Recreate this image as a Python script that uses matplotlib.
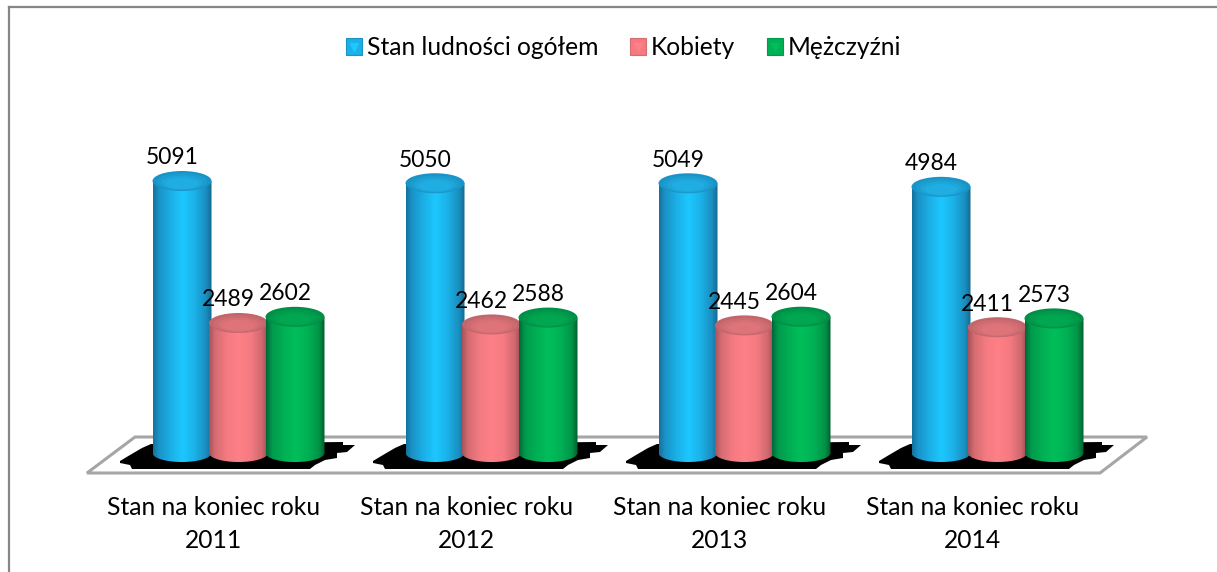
import numpy as np
import matplotlib
matplotlib.use('Agg')
import matplotlib.pyplot as plt
from matplotlib.colors import LinearSegmentedColormap
from matplotlib.lines import Line2D
from matplotlib.legend_handler import HandlerTuple
from matplotlib.patches import Ellipse, PathPatch, Polygon, Rectangle
from matplotlib.path import Path
from matplotlib.transforms import Affine2D

plt.rcParams['font.family'] = ['Lato', 'DejaVu Sans']

# data
categories = ['Stan na koniec roku\n2011', 'Stan na koniec roku\n2012',
              'Stan na koniec roku\n2013', 'Stan na koniec roku\n2014']
ogolem = [5091, 5050, 5049, 4984]
kobiety = [2489, 2462, 2445, 2411]
mezczyzni = [2602, 2588, 2604, 2573]
series_names = ['Stan ludności ogółem', 'Kobiety', 'Mężczyźni']

W, H = 1217, 572
PX_PER_VALUE = 0.05457    # vertical pixels per person
Y0 = 458.8                # pixel row of value 0
STEP = 253.0              # pixels between groups
X0 = 238.5                # pixel column of group 0
BAR_W = 59 / STEP
SHIFT = 56.5 / STEP
BASE = 106                # value at which the cylinders' foot sits
RY = 10 / PX_PER_VALUE    # half height of the end ellipses

stops = [0, 0.1, 0.3, 0.5, 0.72, 0.9, 1]
shades = [('#14729c', '#1a93c8', '#1bb0e6', '#1cc8ff', '#1bb0e6', '#1a8ebf', '#126a90'),
          ('#a5535a', '#d56c72', '#f47a81', '#ff8087', '#f47a81', '#cf686e', '#9c4e52'),
          ('#00673a', '#009a4c', '#00b054', '#00be5a', '#00b054', '#009448', '#005e30')]
top_colors = ['#1a94c6', '#c2666b', '#008f47']
top_lights = ['#22b4ea', '#e6797f', '#00ad54']

fig = plt.figure(figsize=(W / 100, H / 100), dpi=100)
ax = fig.add_axes([0, 0, 1, 1])
ax.set_xlim(-X0 / STEP, (W - X0) / STEP)
ax.set_ylim((Y0 - H) / PX_PER_VALUE, Y0 / PX_PER_VALUE)
ax.axis('off')

# pixel coordinates, origin top left, for the decoration only
px = Affine2D().scale(1, -1).translate(0, H)

# outer frame
for xs, ys in [((8.5, 8.5), (7, H)), ((8.5, W), (7, 7))]:
    ax.add_line(Line2D(xs, ys, transform=px, color='#868686', lw=1.6, zorder=1))

# floor
ax.add_patch(Polygon([(87, 473), (1100, 473), (1147, 437), (135, 437)], closed=True,
                     transform=px, fc='white', ec='#a6a6a6', lw=2.2, zorder=1))

# jagged shadow on the floor
shadow = np.array([(120, 461), (130, 455), (142, 448), (151, 444), (343, 442), (343, 445),
                   (355, 445), (347, 452), (337, 453), (337, 458), (325, 460), (315, 465),
                   (310, 469), (132, 469), (130, 465), (120, 463)], dtype=float)
for i in range(len(categories)):
    ax.add_patch(Polygon(shadow + [STEP * i, 0], closed=True, transform=px,
                         fc='black', ec='none', zorder=2))


def cylinder(x, value, s, z):
    """one cylinder, horizontal gradient clipped to its outline"""
    left, right = x - BAR_W / 2, x + BAR_W / 2
    t = np.linspace(np.pi, 2 * np.pi, 40)
    arc = np.column_stack((x + BAR_W / 2 * np.cos(t), BASE + RY * 0.9 * np.sin(t)))
    verts = [(left, value)] + arc.tolist() + [(right, value), (left, value)]
    outline = Path(verts, closed=False)
    cmap = LinearSegmentedColormap.from_list('c', list(zip(stops, shades[s])))
    im = ax.imshow(np.linspace(0, 1, 128)[None, :], cmap=cmap, aspect='auto',
                   extent=(left, right, BASE - RY, value), zorder=z)
    im.set_clip_path(PathPatch(outline, transform=ax.transData))
    ax.add_patch(Ellipse((x, value), BAR_W, 2 * RY, fc=top_colors[s], ec='none', zorder=z))
    # soft highlight on the lid
    for k, a in [(0.85, 0.3), (0.7, 0.4), (0.55, 0.5)]:
        ax.add_patch(Ellipse((x, value - RY * 0.25 * (1 - k) / 0.45), BAR_W * k, 2 * RY * k,
                             fc=top_lights[s], ec='none', alpha=a, zorder=z))


for s, values in enumerate([ogolem, kobiety, mezczyzni]):
    for i, v in enumerate(values):
        x = i + (s - 1) * SHIFT
        cylinder(x, v, s, 3 + s)
        ax.annotate(str(v), xy=(x, v), xytext=(-7, 9), textcoords='offset points',
                    ha='center', va='bottom', fontsize=16.5, color='black', zorder=10)

# category labels
for i, name in enumerate(categories):
    ax.text(i - 25 / STEP, (Y0 - 524) / PX_PER_VALUE, name, ha='center', va='center',
            fontsize=17.7, linespacing=1.5, color='black')

# legend
handles = []
for s in range(3):
    box = Rectangle((0, 0), 1, 1, fc=shades[s][2], ec=shades[s][1], lw=0.8)
    tri = Line2D([], [], marker='v', ms=6, color=shades[s][3], ls='none')
    handles.append((box, tri))
ax.legend(handles, series_names, handler_map={tuple: HandlerTuple(ndivide=1, pad=0)},
          ncol=3, frameon=False, fontsize=17.7, loc='center',
          bbox_to_anchor=(623.5 / W, 1 - 47.5 / H), handlelength=0.65, handleheight=0.65,
          handletextpad=0.2, columnspacing=1.3)

fig.savefig('out.png', dpi=100)
